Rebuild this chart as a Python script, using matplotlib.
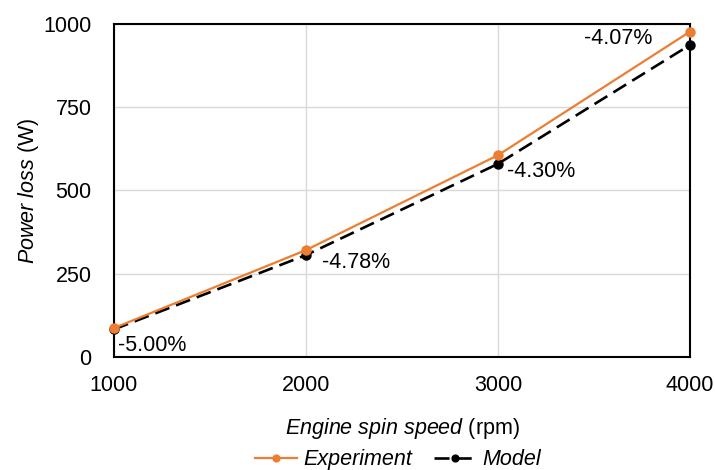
import matplotlib
matplotlib.use('Agg')
import matplotlib.pyplot as plt

plt.rcParams['font.family'] = ['Liberation Sans', 'DejaVu Sans']
plt.rcParams['mathtext.fontset'] = 'custom'
plt.rcParams['mathtext.rm'] = 'Liberation Sans'
plt.rcParams['mathtext.it'] = 'Liberation Sans:italic'

speed = [1000, 2000, 3000, 4000]
experiment = [87, 321, 606, 977]
model = [83, 306, 580, 937]
labels = ['-5.00%', '-4.78%', '-4.30%', '-4.07%']
label_offsets = [(4, -16), (16, -7), (9, -8), (-38, 6)]
label_ha = ['left', 'left', 'left', 'right']

fs = 15.5

fig = plt.figure(figsize=(7.15, 4.7), dpi=100)
ax = fig.add_axes([0.1594, 0.2404, 0.8056, 0.7086])

ax.plot(speed, model, color='black', lw=1.9, ls=(0, (5.7, 2.7)), marker='o', ms=6.5,
        label='Model', clip_on=False, zorder=3)
ax.plot(speed, experiment, color='#ED7D31', lw=1.6, marker='o', ms=6.5,
        label='Experiment', clip_on=False, zorder=4)

for x, y, s, off, ha in zip(speed, model, labels, label_offsets, label_ha):
    ax.annotate(s, (x, y), xytext=off, textcoords='offset pixels',
                ha=ha, va='center', fontsize=fs, zorder=5)

ax.set_xlim(1000, 4000)
ax.set_ylim(0, 1000)
ax.set_xticks(speed)
ax.set_yticks([0, 250, 500, 750, 1000])
ax.tick_params(length=0, labelsize=fs)
ax.tick_params(axis='x', pad=13)
ax.tick_params(axis='y', pad=16)
ax.grid(True, color='#d9d9d9', lw=1)
ax.set_axisbelow(True)
for sp in ax.spines.values():
    sp.set_linewidth(1.5)
    sp.set_color('black')

ax.set_xlabel(r'$\it{Engine\ spin\ speed}$ (rpm)', fontsize=fs, labelpad=14)
ax.set_ylabel(r'$\it{Power\ loss}$ (W)', fontsize=fs, labelpad=2)

h, l = ax.get_legend_handles_labels()
leg = fig.legend(h[::-1], l[::-1], loc='lower center', bbox_to_anchor=(0.557, -0.042), ncol=2,
                 frameon=False, fontsize=fs, handlelength=1.95, markerscale=0.75,
                 columnspacing=1.0, handletextpad=0.3)
for t in leg.get_texts():
    t.set_fontstyle('italic')

fig.savefig('out.png', dpi=100)
